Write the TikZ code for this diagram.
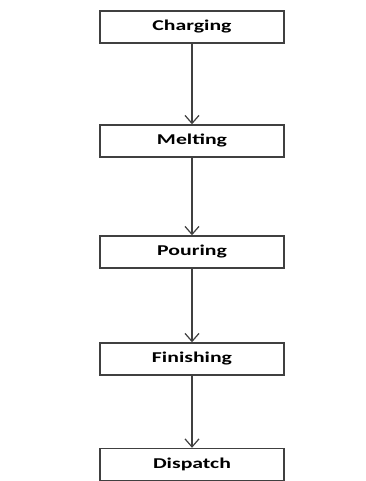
\documentclass[tikz,border=0pt]{standalone}
\usepackage{fontspec}
\setmainfont{Carlito}
\usetikzlibrary{arrows.meta}
\tikzset{
  stage/.style={draw=black!75, line width=1.4pt, fill=white,
    minimum width=184pt, minimum height=32pt, inner sep=0pt,
    font=\fontsize{15pt}{17pt}\selectfont\bfseries, text=black},
  flow/.style={draw=black!75, line width=1.2pt,
    -{Straight Barb[length=8pt,width=14pt,line width=1.2pt]}}
}
\newcommand{\wide}[1]{\scalebox{1.45}[1]{#1}}
\begin{document}
\begin{tikzpicture}[x=1pt,y=1pt]
  \useasboundingbox (0,0) rectangle (366,481);
  \fill[white] (0,0) rectangle (366,481);
  \node[stage] (charging)  at (192,454) {\wide{Charging}};
  \node[stage] (melting)   at (192,340) {\wide{Melting}};
  \node[stage] (pouring)   at (192,229) {\wide{Pouring}};
  \node[stage] (finishing) at (192,122) {\wide{Finishing}};
  \node[stage] (dispatch)  at (192,16.5) {\wide{Dispatch}};
  \draw[flow] (charging.south)  -- (melting.north);
  \draw[flow] (melting.south)   -- (pouring.north);
  \draw[flow] (pouring.south)   -- (finishing.north);
  \draw[flow] (finishing.south) -- (dispatch.north);
\end{tikzpicture}
\end{document}
